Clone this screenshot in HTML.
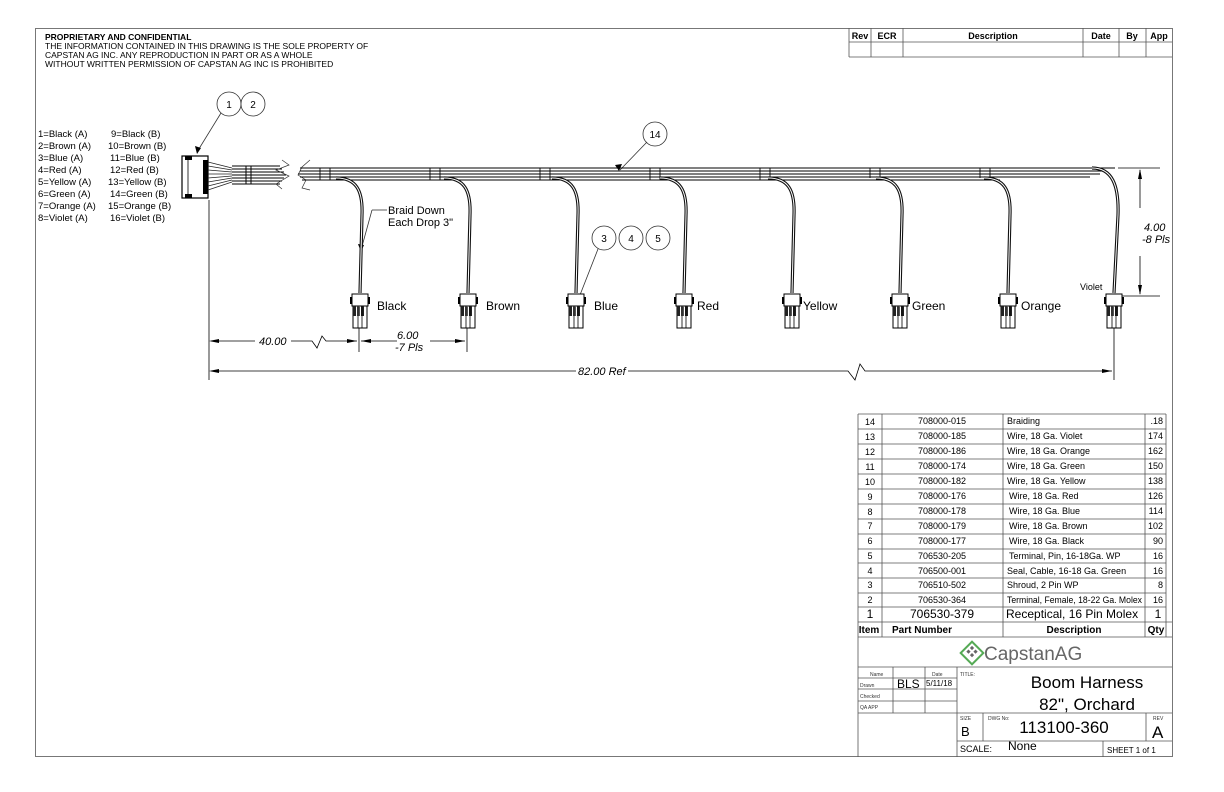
<!DOCTYPE html>
<html><head><meta charset="utf-8"><style>
html,body{margin:0;padding:0;background:#fff;}
svg{display:block;font-family:"Liberation Sans",sans-serif;}
</style></head><body>
<svg width="1224" height="792" viewBox="0 0 1224 792" xmlns="http://www.w3.org/2000/svg">
<rect x="0" y="0" width="1224" height="792" fill="#fff"/>
<rect x="35.5" y="28.5" width="1137" height="728" fill="none" stroke="#777" stroke-width="1"/>
<text x="45" y="40" font-size="8.5" font-weight="bold">PROPRIETARY AND CONFIDENTIAL</text>
<text x="45" y="49" font-size="8.5">THE INFORMATION CONTAINED IN THIS DRAWING IS THE SOLE PROPERTY OF</text>
<text x="45" y="58" font-size="8.5">CAPSTAN AG INC. ANY REPRODUCTION IN PART OR AS A WHOLE</text>
<text x="45" y="67" font-size="8.5">WITHOUT WRITTEN PERMISSION OF CAPSTAN AG INC IS PROHIBITED</text>
<g stroke="#555" stroke-width="0.8" fill="none">
<line x1="849" y1="28" x2="849" y2="57"/>
<line x1="849" y1="42" x2="1172" y2="42"/>
<line x1="849" y1="57" x2="1172" y2="57"/>
<line x1="871" y1="28" x2="871" y2="57"/>
<line x1="903" y1="28" x2="903" y2="57"/>
<line x1="1083" y1="28" x2="1083" y2="57"/>
<line x1="1119" y1="28" x2="1119" y2="57"/>
<line x1="1146" y1="28" x2="1146" y2="57"/>
</g>
<g font-size="9" font-weight="bold" text-anchor="middle">
<text x="860" y="39">Rev</text><text x="887" y="39">ECR</text><text x="993" y="39">Description</text>
<text x="1101" y="39">Date</text><text x="1132" y="39">By</text><text x="1159" y="39">App</text>
</g>
<g font-size="9.5">
<text x="38" y="137">1=Black (A)</text><text x="111" y="137">9=Black (B)</text>
<text x="38" y="149">2=Brown (A)</text><text x="108" y="149">10=Brown (B)</text>
<text x="38" y="161">3=Blue (A)</text><text x="110" y="161">11=Blue (B)</text>
<text x="38" y="173">4=Red (A)</text><text x="110" y="173">12=Red (B)</text>
<text x="38" y="185">5=Yellow (A)</text><text x="108" y="185">13=Yellow (B)</text>
<text x="38" y="197">6=Green (A)</text><text x="110" y="197">14=Green (B)</text>
<text x="38" y="209">7=Orange (A)</text><text x="108" y="209">15=Orange (B)</text>
<text x="38" y="221">8=Violet (A)</text><text x="110" y="221">16=Violet (B)</text>
</g>
<g fill="#fff" stroke="#333" stroke-width="0.8">
<circle cx="229" cy="104" r="12"/><circle cx="253" cy="104" r="12"/>
<circle cx="655" cy="134" r="12"/>
<circle cx="604" cy="238" r="12"/><circle cx="631" cy="238" r="12"/><circle cx="658" cy="238" r="12"/>
</g>
<g font-size="10" text-anchor="middle">
<text x="229" y="108">1</text><text x="253" y="108">2</text><text x="655" y="138">14</text>
<text x="604" y="242">3</text><text x="631" y="242">4</text><text x="658" y="242">5</text>
</g>
<g stroke="#333" stroke-width="0.8">
<line x1="221" y1="113" x2="197" y2="152"/>
<line x1="647" y1="142" x2="620" y2="170"/>
<line x1="598" y1="249" x2="580" y2="295"/>
<line x1="372" y1="210" x2="361" y2="250"/>
</g>
<polygon points="197,154 195,146 201,148" fill="#000"/>
<polygon points="619,171 615,165 622,164" fill="#000"/>
<polygon points="361,252 358,244 364,245" fill="#000"/>
<text x="388" y="214" font-size="11">Braid Down</text>
<text x="388" y="226" font-size="11">Each Drop 3"</text>
<line x1="372" y1="210" x2="387" y2="210" stroke="#333" stroke-width="0.8"/>
<rect x="182" y="156" width="26" height="42" fill="#fff" stroke="#000" stroke-width="1.2"/>
<rect x="185" y="156" width="7" height="4" fill="#000"/>
<rect x="185" y="194" width="7" height="4" fill="#000"/>
<rect x="203" y="160" width="5" height="34" fill="#000"/>
<line x1="188" y1="160" x2="188" y2="194" stroke="#000" stroke-width="0.8"/>
<g stroke="#222" stroke-width="0.7">
<path d="M208,162 L232,168 M208,166 L232,170 M208,170 L232,172 M208,174 L232,174 M208,178 L232,176 M208,182 L232,178 M208,186 L232,180 M208,190 L232,182"/>
</g>
<g stroke="#000" stroke-width="1">
<line x1="232" y1="166" x2="280" y2="166"/><line x1="232" y1="169" x2="282" y2="169"/>
<line x1="232" y1="172" x2="284" y2="172"/><line x1="232" y1="175" x2="286" y2="175"/>
<line x1="232" y1="178" x2="284" y2="178"/><line x1="232" y1="181" x2="282" y2="181"/>
<line x1="232" y1="184" x2="280" y2="184"/>
<line x1="246" y1="166" x2="246" y2="184"/><line x1="251" y1="166" x2="251" y2="184"/>
</g>
<path d="M282,160 L289,165 L276,170 L289,176 L276,184 L282,189" fill="none" stroke="#333" stroke-width="0.7"/>
<path d="M310,160 L302,167 L298,175 L306,180 L302,188 L310,190" fill="none" stroke="#333" stroke-width="0.7"/>
<g stroke="#000" stroke-width="1.1">
<line x1="300" y1="168" x2="1115" y2="168"/><line x1="300" y1="171" x2="1105" y2="171"/>
<line x1="298" y1="174" x2="1100" y2="174"/><line x1="300" y1="177" x2="1090" y2="177"/>
<line x1="302" y1="180" x2="1000" y2="180"/>
</g>
<g stroke="#000" stroke-width="0.9">
<line x1="320" y1="168" x2="320" y2="180"/><line x1="330" y1="168" x2="330" y2="180"/>
<line x1="430" y1="168" x2="430" y2="180"/><line x1="440" y1="168" x2="440" y2="180"/>
<line x1="540" y1="168" x2="540" y2="180"/><line x1="550" y1="168" x2="550" y2="180"/>
<line x1="650" y1="168" x2="650" y2="180"/><line x1="660" y1="168" x2="660" y2="180"/>
<line x1="760" y1="168" x2="760" y2="180"/><line x1="770" y1="168" x2="770" y2="180"/>
<line x1="870" y1="168" x2="870" y2="178"/><line x1="880" y1="168" x2="880" y2="178"/>
<line x1="980" y1="168" x2="980" y2="178"/><line x1="990" y1="168" x2="990" y2="178"/>
</g>
<g fill="none">
<g stroke="#111" stroke-width="3.2">
<path d="M336,178 C356,178 363,190 362,215 L360,293"/>
<path d="M444,178 C464,178 471,190 470,215 L468,293"/>
<path d="M552,178 C572,178 579,190 578,215 L576,293"/>
<path d="M660,178 C680,178 687,190 686,215 L684,293"/>
<path d="M768,178 C788,178 795,190 794,215 L792,293"/>
<path d="M876,178 C896,178 903,190 902,215 L900,293"/>
<path d="M984,178 C1004,178 1011,190 1010,215 L1008,293"/>
<path d="M1092,168 C1112,168 1119,185 1118,215 L1114,293"/>
</g>
<g stroke="#fff" stroke-width="1">
<path d="M336,178 C356,178 363,190 362,215 L360,293"/>
<path d="M444,178 C464,178 471,190 470,215 L468,293"/>
<path d="M552,178 C572,178 579,190 578,215 L576,293"/>
<path d="M660,178 C680,178 687,190 686,215 L684,293"/>
<path d="M768,178 C788,178 795,190 794,215 L792,293"/>
<path d="M876,178 C896,178 903,190 902,215 L900,293"/>
<path d="M984,178 C1004,178 1011,190 1010,215 L1008,293"/>
<path d="M1092,168 C1112,168 1119,185 1118,215 L1114,293"/>
</g>
</g>
<defs>
<g id="cn">
<rect x="-8" y="0" width="16" height="12" fill="#fff" stroke="#000" stroke-width="1"/>
<rect x="-10" y="3" width="2" height="7" fill="#000"/>
<rect x="8" y="3" width="2" height="7" fill="#000"/>
<rect x="-7" y="12" width="14" height="22" fill="#fff" stroke="#000" stroke-width="1"/>
<rect x="-7" y="12" width="3" height="10" fill="#222"/>
<rect x="-3" y="12" width="3" height="10" fill="#555"/>
<rect x="1" y="12" width="3" height="10" fill="#222"/>
<line x1="-2" y1="12" x2="-2" y2="34" stroke="#000" stroke-width="0.8"/>
<line x1="2" y1="12" x2="2" y2="34" stroke="#000" stroke-width="0.8"/>
</g>
</defs>
<use href="#cn" x="360" y="294"/><use href="#cn" x="468" y="294"/>
<use href="#cn" x="576" y="294"/><use href="#cn" x="684" y="294"/>
<use href="#cn" x="792" y="294"/><use href="#cn" x="900" y="294"/>
<use href="#cn" x="1008" y="294"/><use href="#cn" x="1114" y="294"/>
<g font-size="12">
<text x="377" y="310">Black</text><text x="486" y="310">Brown</text><text x="594" y="310">Blue</text>
<text x="697" y="310">Red</text><text x="803" y="310">Yellow</text><text x="912" y="310">Green</text>
<text x="1021" y="310">Orange</text>
</g>
<text x="1080" y="290" font-size="9">Violet</text>
<g stroke="#000" stroke-width="0.8" fill="none">
<line x1="209" y1="200" x2="209" y2="380"/>
<line x1="359" y1="328" x2="359" y2="352"/>
<line x1="467" y1="328" x2="467" y2="352"/>
<line x1="1114" y1="328" x2="1114" y2="380"/>
<line x1="211" y1="341" x2="255" y2="341"/>
<path d="M291,341 L312,341 L317,348 L322,336 L326,341 L357,341"/>
<line x1="361" y1="341" x2="397" y2="341"/>
<line x1="430" y1="341" x2="465" y2="341"/>
<line x1="211" y1="371" x2="576" y2="371"/>
<path d="M628,371 L848,371 L855,380 L860,364 L865,371 L1112,371"/>
<line x1="1118" y1="168" x2="1160" y2="168"/>
<line x1="1122" y1="296" x2="1160" y2="296"/>
<line x1="1140" y1="170" x2="1140" y2="208"/>
<line x1="1140" y1="256" x2="1140" y2="294"/>
</g>
<g fill="#000">
<polygon points="209,341 219,339 219,343"/><polygon points="357,341 347,339 347,343"/>
<polygon points="361,341 371,339 371,343"/><polygon points="465,341 455,339 455,343"/>
<polygon points="209,371 219,369 219,373"/><polygon points="1112,371 1102,369 1102,373"/>
<polygon points="1140,169 1138,179 1142,179"/><polygon points="1140,295 1138,285 1142,285"/>
</g>
<g font-size="11" font-style="italic">
<text x="259" y="345">40.00</text>
<text x="397" y="339">6.00</text><text x="395" y="351">-7 Pls</text>
<text x="578" y="375" font-size="11">82.00 Ref</text>
<text x="1144" y="231">4.00</text><text x="1142" y="243">-8 Pls</text>
</g>
<g stroke="#555" stroke-width="0.8" fill="none">
<line x1="858" y1="414" x2="858" y2="757"/>
<line x1="882" y1="414" x2="882" y2="637"/>
<line x1="1003" y1="414" x2="1003" y2="637"/>
<line x1="1145" y1="414" x2="1145" y2="637"/>
<line x1="1166" y1="414" x2="1166" y2="637"/>
<line x1="858" y1="414" x2="1166" y2="414"/>
<line x1="858" y1="429" x2="1166" y2="429"/><line x1="858" y1="444" x2="1166" y2="444"/>
<line x1="858" y1="459" x2="1166" y2="459"/><line x1="858" y1="474" x2="1166" y2="474"/>
<line x1="858" y1="489" x2="1166" y2="489"/><line x1="858" y1="504" x2="1166" y2="504"/>
<line x1="858" y1="519" x2="1166" y2="519"/><line x1="858" y1="534" x2="1166" y2="534"/>
<line x1="858" y1="549" x2="1166" y2="549"/><line x1="858" y1="563" x2="1166" y2="563"/>
<line x1="858" y1="578" x2="1166" y2="578"/><line x1="858" y1="593" x2="1166" y2="593"/>
<line x1="858" y1="607" x2="1166" y2="607"/><line x1="858" y1="622" x2="1172" y2="622"/>
<line x1="858" y1="637" x2="1172" y2="637"/>
<line x1="858" y1="667" x2="1172" y2="667"/>
<line x1="893" y1="667" x2="893" y2="713"/><line x1="925" y1="667" x2="925" y2="713"/>
<line x1="957" y1="667" x2="957" y2="757"/>
<line x1="858" y1="678" x2="957" y2="678"/><line x1="858" y1="689" x2="957" y2="689"/>
<line x1="858" y1="701" x2="957" y2="701"/>
<line x1="858" y1="713" x2="1172" y2="713"/>
<line x1="957" y1="741" x2="1172" y2="741"/>
<line x1="983" y1="713" x2="983" y2="741"/>
<line x1="1146" y1="713" x2="1146" y2="741"/>
<line x1="1103" y1="741" x2="1103" y2="757"/>
</g>
<g font-size="9">
<g text-anchor="middle">
<text x="870" y="425">14</text><text x="870" y="440">13</text><text x="870" y="455">12</text><text x="870" y="470">11</text>
<text x="870" y="485">10</text><text x="870" y="500">9</text><text x="870" y="515">8</text><text x="870" y="529">7</text>
<text x="870" y="544">6</text><text x="870" y="559">5</text><text x="870" y="574">4</text><text x="870" y="588">3</text>
<text x="870" y="603">2</text>
<text x="942" y="424">708000-015</text><text x="942" y="439">708000-185</text><text x="942" y="454">708000-186</text>
<text x="942" y="469">708000-174</text><text x="942" y="484">708000-182</text><text x="942" y="499">708000-176</text>
<text x="942" y="514">708000-178</text><text x="942" y="529">708000-179</text><text x="942" y="544">708000-177</text>
<text x="942" y="559">706530-205</text><text x="942" y="574">706500-001</text><text x="942" y="588">706510-502</text>
<text x="942" y="603">706530-364</text>
</g>
<text x="1007" y="424">Braiding</text><text x="1007" y="439">Wire, 18 Ga. Violet</text>
<text x="1007" y="454">Wire, 18 Ga. Orange</text><text x="1007" y="469">Wire, 18 Ga. Green</text>
<text x="1007" y="484">Wire, 18 Ga. Yellow</text><text x="1009" y="499">Wire, 18 Ga. Red</text>
<text x="1009" y="514">Wire, 18 Ga. Blue</text><text x="1009" y="529">Wire, 18 Ga. Brown</text>
<text x="1009" y="544">Wire, 18 Ga. Black</text><text x="1009" y="559">Terminal, Pin, 16-18Ga. WP</text>
<text x="1007" y="574">Seal, Cable, 16-18 Ga. Green</text><text x="1007" y="588">Shroud, 2 Pin WP</text>
<text x="1007" y="603" textLength="135" lengthAdjust="spacingAndGlyphs">Terminal, Female, 18-22 Ga. Molex</text>
<g text-anchor="end">
<text x="1163" y="424">.18</text><text x="1163" y="439">174</text><text x="1163" y="454">162</text>
<text x="1163" y="469">150</text><text x="1163" y="484">138</text><text x="1163" y="499">126</text>
<text x="1163" y="514">114</text><text x="1163" y="529">102</text><text x="1163" y="544">90</text>
<text x="1163" y="559">16</text><text x="1163" y="574">16</text><text x="1163" y="588">8</text>
<text x="1163" y="603">16</text>
</g>
</g>
<g font-size="12">
<text x="870" y="618" text-anchor="middle">1</text>
<text x="942" y="618" text-anchor="middle">706530-379</text>
<text x="1006" y="618">Receptical, 16 Pin Molex</text>
<text x="1158" y="618" text-anchor="middle">1</text>
</g>
<g font-size="10" font-weight="bold" text-anchor="middle">
<text x="869" y="633">Item</text><text x="922" y="633">Part Number</text>
<text x="1074" y="633">Description</text><text x="1156" y="633">Qty</text>
</g>
<g transform="translate(972,653) rotate(45)">
<rect x="-8" y="-8" width="16" height="16" fill="none" stroke="#5a5" stroke-width="2"/>
<rect x="-5" y="-5" width="3" height="3" fill="#666"/><rect x="0" y="-5" width="3" height="3" fill="#666"/>
<rect x="-5" y="0" width="3" height="3" fill="#666"/><rect x="0" y="0" width="3" height="3" fill="#666"/>
</g>
<text x="984" y="660" font-size="19" fill="#666">CapstanAG</text>
<g font-size="5" fill="#333">
<text x="870" y="676">Name</text><text x="932" y="676">Date</text><text x="960" y="676">TITLE:</text>
<text x="860" y="687">Drawn</text><text x="860" y="698">Checked</text><text x="860" y="709">QA APP</text>
<text x="960" y="720">SIZE</text><text x="988" y="720">DWG No:</text><text x="1153" y="720">REV</text>
</g>
<text x="897" y="688" font-size="12">BLS</text>
<text x="926" y="686" font-size="8">5/11/18</text>
<text x="1087" y="688" font-size="17" text-anchor="middle">Boom Harness</text>
<text x="1087" y="710" font-size="17" text-anchor="middle">82", Orchard</text>
<text x="961" y="736" font-size="13">B</text>
<text x="1064" y="733" font-size="17" text-anchor="middle">113100-360</text>
<text x="1152" y="738" font-size="17">A</text>
<text x="960" y="752" font-size="9">SCALE:</text>
<text x="1008" y="750" font-size="12">None</text>
<text x="1107" y="753" font-size="8">SHEET 1 of 1</text>
</svg>
</body></html>
